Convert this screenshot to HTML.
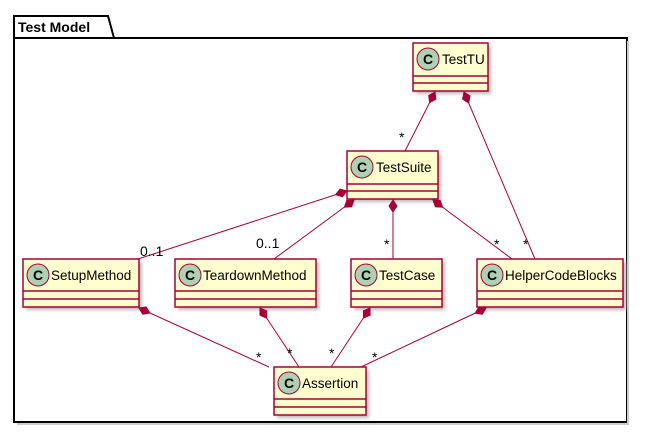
<!DOCTYPE html>
<html><head><meta charset="utf-8"><style>
html,body{margin:0;padding:0;background:#fff;}
svg{display:block;}
text{font-family:"Liberation Sans","DejaVu Sans",sans-serif;}
</style></head><body>
<svg width="648" height="434" viewBox="0 0 648 434" xmlns="http://www.w3.org/2000/svg">
<defs>
<filter id="sh" x="-20%" y="-20%" width="150%" height="150%"><feGaussianBlur stdDeviation="1.5"/></filter>
<g id="dia"><polygon points="0,0 6,-4 12,0 6,4" fill="#A80036" stroke="#A80036" stroke-width="1"/></g>
</defs>
<!-- package -->
<path d="M14,38 L14,16 L108,16 L114,38" fill="none" stroke="#000" stroke-width="2"/>
<rect x="14" y="38" width="613" height="384" fill="none" stroke="#000" stroke-width="2"/>
<line x1="628" y1="41" x2="628" y2="423" stroke="#ccc" stroke-width="2"/>
<line x1="17" y1="424" x2="629" y2="424" stroke="#ccc" stroke-width="2"/>
<text x="18" y="32" font-size="14" font-weight="bold">Test Model</text>

<!-- classes -->
<g id="classes">
<rect x="416" y="46" width="75" height="48" fill="#bbb" filter="url(#sh)"/>
<rect x="413" y="43" width="75" height="48" fill="#FEFECE" stroke="#A80036" stroke-width="1.5"/>
<line x1="413" y1="76" x2="488" y2="76" stroke="#A80036" stroke-width="1.5"/>
<line x1="413" y1="83" x2="488" y2="83" stroke="#A80036" stroke-width="1.5"/>
<circle cx="428" cy="59" r="11" fill="#ADD1B2" stroke="#A80036"/>
<text x="428" y="64" font-size="14" font-weight="bold" text-anchor="middle">C</text>
<text x="442" y="64" font-size="13.5">TestTU</text>

<rect x="350" y="154" width="91" height="48" fill="#bbb" filter="url(#sh)"/>
<rect x="347" y="151" width="91" height="48" fill="#FEFECE" stroke="#A80036" stroke-width="1.5"/>
<line x1="347" y1="184" x2="438" y2="184" stroke="#A80036" stroke-width="1.5"/>
<line x1="347" y1="191" x2="438" y2="191" stroke="#A80036" stroke-width="1.5"/>
<circle cx="362" cy="167" r="11" fill="#ADD1B2" stroke="#A80036"/>
<text x="362" y="172" font-size="14" font-weight="bold" text-anchor="middle">C</text>
<text x="376" y="172" font-size="13.5">TestSuite</text>

<rect x="26" y="262" width="116" height="48" fill="#bbb" filter="url(#sh)"/>
<rect x="23" y="259" width="116" height="48" fill="#FEFECE" stroke="#A80036" stroke-width="1.5"/>
<line x1="23" y1="291" x2="139" y2="291" stroke="#A80036" stroke-width="1.5"/>
<line x1="23" y1="299" x2="139" y2="299" stroke="#A80036" stroke-width="1.5"/>
<circle cx="38" cy="275" r="11" fill="#ADD1B2" stroke="#A80036"/>
<text x="38" y="280" font-size="14" font-weight="bold" text-anchor="middle">C</text>
<text x="51" y="280" font-size="13.5">SetupMethod</text>

<rect x="178" y="262" width="141" height="48" fill="#bbb" filter="url(#sh)"/>
<rect x="175" y="259" width="141" height="48" fill="#FEFECE" stroke="#A80036" stroke-width="1.5"/>
<line x1="175" y1="291" x2="316" y2="291" stroke="#A80036" stroke-width="1.5"/>
<line x1="175" y1="299" x2="316" y2="299" stroke="#A80036" stroke-width="1.5"/>
<circle cx="190" cy="275" r="11" fill="#ADD1B2" stroke="#A80036"/>
<text x="190" y="280" font-size="14" font-weight="bold" text-anchor="middle">C</text>
<text x="203" y="280" font-size="13.5">TeardownMethod</text>

<rect x="354" y="262" width="91" height="48" fill="#bbb" filter="url(#sh)"/>
<rect x="351" y="259" width="91" height="48" fill="#FEFECE" stroke="#A80036" stroke-width="1.5"/>
<line x1="351" y1="291" x2="442" y2="291" stroke="#A80036" stroke-width="1.5"/>
<line x1="351" y1="299" x2="442" y2="299" stroke="#A80036" stroke-width="1.5"/>
<circle cx="366" cy="275" r="11" fill="#ADD1B2" stroke="#A80036"/>
<text x="366" y="280" font-size="14" font-weight="bold" text-anchor="middle">C</text>
<text x="379" y="280" font-size="13.5">TestCase</text>

<rect x="480" y="262" width="146" height="48" fill="#bbb" filter="url(#sh)"/>
<rect x="477" y="259" width="146" height="48" fill="#FEFECE" stroke="#A80036" stroke-width="1.5"/>
<line x1="477" y1="291" x2="623" y2="291" stroke="#A80036" stroke-width="1.5"/>
<line x1="477" y1="299" x2="623" y2="299" stroke="#A80036" stroke-width="1.5"/>
<circle cx="492" cy="275" r="11" fill="#ADD1B2" stroke="#A80036"/>
<text x="492" y="280" font-size="14" font-weight="bold" text-anchor="middle">C</text>
<text x="505" y="280" font-size="13.5">HelperCodeBlocks</text>

<rect x="277" y="370" width="92" height="48" fill="#bbb" filter="url(#sh)"/>
<rect x="274" y="367" width="92" height="48" fill="#FEFECE" stroke="#A80036" stroke-width="1.5"/>
<line x1="274" y1="399" x2="366" y2="399" stroke="#A80036" stroke-width="1.5"/>
<line x1="274" y1="407" x2="366" y2="407" stroke="#A80036" stroke-width="1.5"/>
<circle cx="289" cy="383" r="11" fill="#ADD1B2" stroke="#A80036"/>
<text x="289" y="388" font-size="14" font-weight="bold" text-anchor="middle">C</text>
<text x="302" y="388" font-size="13.5">Assertion</text>
</g>

<!-- connectors -->
<g stroke="#A80036" stroke-width="1" fill="none">
<line x1="435" y1="92" x2="405" y2="151"/>
<line x1="464" y1="92" x2="535" y2="259"/>
<line x1="347" y1="191" x2="138" y2="259"/>
<line x1="354" y1="200" x2="274" y2="259"/>
<line x1="393" y1="200" x2="393" y2="259"/>
<line x1="433" y1="200" x2="512" y2="259"/>
<line x1="139" y1="308" x2="269" y2="367"/>
<line x1="260" y1="308" x2="299" y2="367"/>
<line x1="370" y1="308" x2="331" y2="367"/>
<line x1="486" y1="308" x2="361" y2="367"/>
</g>
<use href="#dia" transform="translate(435,92) rotate(116.6)"/>
<use href="#dia" transform="translate(464,92) rotate(67.1)"/>
<use href="#dia" transform="translate(347,191) rotate(162.1)"/>
<use href="#dia" transform="translate(354,200) rotate(143.1)"/>
<use href="#dia" transform="translate(393,200) rotate(90)"/>
<use href="#dia" transform="translate(433,200) rotate(37.2)"/>
<use href="#dia" transform="translate(139,308) rotate(24.8)"/>
<use href="#dia" transform="translate(260,308) rotate(57)"/>
<use href="#dia" transform="translate(370,308) rotate(123)"/>
<use href="#dia" transform="translate(486,308) rotate(154.4)"/>

<g font-size="14" fill="#000">
<text x="399" y="142">*</text>
<text x="140" y="256">0..1</text>
<text x="256" y="248">0..1</text>
<text x="384" y="249">*</text>
<text x="494" y="249">*</text>
<text x="523" y="249">*</text>
<text x="256" y="362">*</text>
<text x="287" y="358">*</text>
<text x="329" y="358">*</text>
<text x="372" y="362">*</text>
</g>
</svg>
</body></html>
